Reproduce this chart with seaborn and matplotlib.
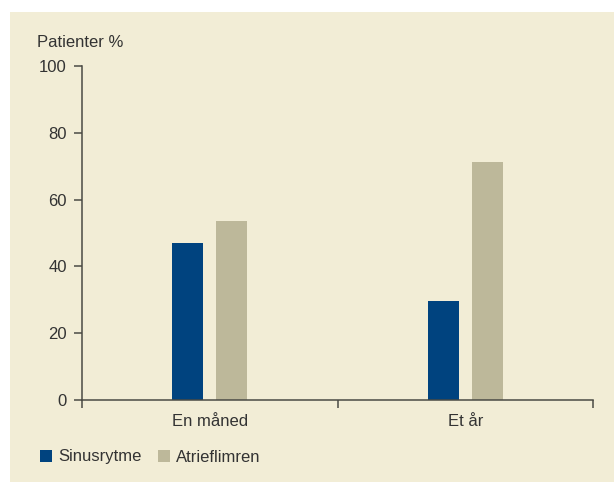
import matplotlib
matplotlib.use("Agg")
import matplotlib.pyplot as plt
from matplotlib.patches import Rectangle
import seaborn as sns
import pandas as pd

categories = ["En måned", "Et år"]
series_names = ["Sinusrytme", "Atrieflimren"]
sinusrytme = [47, 29.5]
atrieflimren = [53.5, 71.3]
y_ticks = [0, 20, 40, 60, 80, 100]
y_label = "Patienter %"

bg = "#F2EDD6"
blue = "#00437F"
beige = "#BDB89A"
txt = "#333333"
axc = "#4A4A44"

sns.set_theme(style="ticks")
plt.rcParams["font.family"] = ["Liberation Sans", "DejaVu Sans"]

df = pd.DataFrame({
    "cat": categories * 2,
    "series": [series_names[0]] * len(categories) + [series_names[1]] * len(categories),
    "val": sinusrytme + atrieflimren,
})

W, H = 614, 482
fig = plt.figure(figsize=(W / 100, H / 100), dpi=100, facecolor="white")
fig.patches.append(Rectangle((10 / W, 0), 1, 1 - 12 / H, transform=fig.transFigure,
                             facecolor=bg, edgecolor="none", zorder=-10))
ax = fig.add_axes([82 / W, 1 - 400 / H, (593 - 82) / W, (400 - 66) / H])
ax.set_facecolor("none")

sns.barplot(data=df, x="cat", y="val", hue="series", order=categories,
            hue_order=series_names, palette=[blue, beige], width=0.345, gap=0.29,
            saturation=1, ax=ax, legend=False, edgecolor="none", linewidth=0)

ax.set_xlim(-0.5, 1.5)
ax.set_ylim(0, 100)
ax.set_yticks(y_ticks)
ax.set_yticklabels([str(v) for v in y_ticks])
ax.set_xticks([-0.5, 0.5, 1.5])
ax.set_xticklabels([])
ax.set_xticks([0, 1], minor=True)
ax.set_xticklabels(categories, minor=True)
ax.tick_params(axis="x", which="major", length=6, width=1.1, color=axc, direction="out")
ax.tick_params(axis="x", which="minor", length=0, pad=10, labelsize=12, labelcolor=txt)
ax.tick_params(axis="y", length=6, width=1.1, color=axc, pad=5, labelsize=12, labelcolor=txt)
ax.set_xlabel("")
ax.set_ylabel("")
for s in ["top", "right"]:
    ax.spines[s].set_visible(False)
for s in ["left", "bottom"]:
    ax.spines[s].set_color(axc)
    ax.spines[s].set_linewidth(1.1)
ax.grid(False)

fig.text(37 / W, 1 - 47 / H, y_label, fontsize=12, color=txt, va="baseline", ha="left")

handles = [Rectangle((0, 0), 1, 1, facecolor=blue, edgecolor="none"),
           Rectangle((0, 0), 1, 1, facecolor=beige, edgecolor="none")]
fig.legend(handles, series_names, loc="center left", bbox_to_anchor=(40 / W, 1 - 457 / H),
           ncol=2, frameon=False, fontsize=12, handlelength=0.72, handleheight=0.72,
           handletextpad=0.35, columnspacing=1.0, borderpad=0, borderaxespad=0,
           labelcolor=txt)

fig.savefig("out.png", dpi=100, facecolor="white")
